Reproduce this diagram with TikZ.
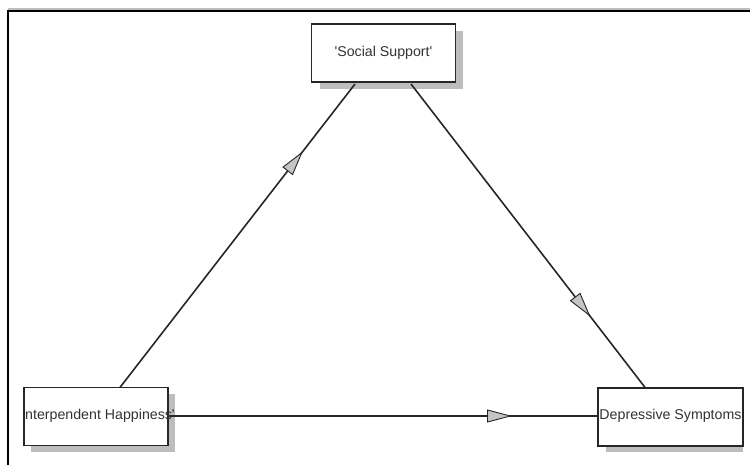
\documentclass[tikz,border=0pt]{standalone}
\usepackage{fontspec}
\newfontfamily\diafont{Liberation Sans}
\usetikzlibrary{arrows.meta,decorations.markings,calc}
\definecolor{shadowgray}{HTML}{BDBDBD}
\definecolor{txtgray}{HTML}{333333}
\definecolor{headgray}{HTML}{C4C4C4}
\tikzset{
  lbl/.style={text=txtgray, font=\diafont\fontsize{14.2pt}{16pt}\selectfont, inner sep=0pt},
  box/.style={draw=black!85, line width=1.6pt, fill=white, inner sep=0pt,
    minimum width=144pt, minimum height=58pt, lbl},
  conn/.style={draw=black!85, line width=1.6pt},
  midhead/.style={postaction={decorate}, decoration={markings,
    mark=at position #1 with {\arrow[line width=0.9pt]{Triangle[length=25pt,width=13pt,fill=headgray]}}}}
}
\begin{document}
\begin{tikzpicture}[x=1pt,y=-1pt]
\useasboundingbox (0,0) rectangle (750,465);
% frame
\draw[line width=2.5pt, shadowgray] (8,9.5) -- (750,9.5);
\draw[line width=1.6pt, black] (8,11) -- (750,11);
\draw[line width=1.6pt, black] (8,10.2) -- (8,465);
% shadows
\fill[shadowgray] (320,31) rectangle (463,89);
\fill[shadowgray] (31,394) rectangle (175,452);
\fill[shadowgray] (606,446) rectangle (743,452);
% connectors (drawn beneath boxes)
\coordinate (a1) at (118,390);
\coordinate (a2) at (355,84);
\coordinate (b1) at (411,84);
\coordinate (b2) at (647,390);
\coordinate (c1) at (168,416);
\coordinate (c2) at (598,416);
\draw[conn, midhead=0.78] (a1) -- (a2);
\draw[conn, midhead=0.76] (b1) -- (b2);
\draw[conn, midhead=0.80] (c1) -- (c2);
% boxes
\node[box] (ss) at (383.5,53) {'Social Support'};
\node[box] (ih) at (96,416.5) {};
\node[box, minimum width=145pt] (ds) at (670.5,417) {};
\node[lbl, anchor=west] (iht) at (25,416) {nterpendent Happiness'};
\node[lbl] (dst) at (670.5,416) {Depressive Symptoms};
\end{tikzpicture}
\end{document}
